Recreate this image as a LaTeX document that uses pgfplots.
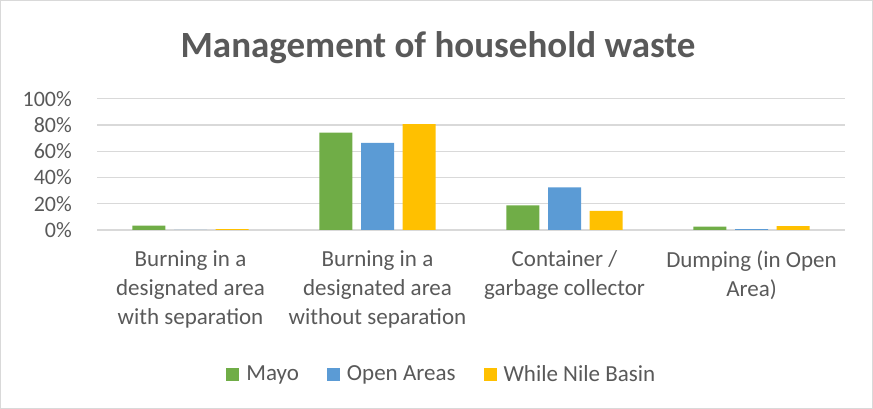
\documentclass[border=0pt]{standalone}
\usepackage{pgfplots}
\pgfplotsset{compat=1.18}
\usepackage{fontspec}
\setmainfont{Carlito}
\definecolor{cgreen}{HTML}{70AD47}
\definecolor{cblue}{HTML}{5B9BD5}
\definecolor{cyellow}{HTML}{FFC000}
\definecolor{cgrid}{HTML}{D9D9D9}
\definecolor{ctext}{HTML}{595959}
\begin{document}
\begin{tikzpicture}
\useasboundingbox (0pt,0pt) rectangle (873pt,409pt);
\draw[cgrid, line width=0.8pt] (0.5pt,0.5pt) rectangle (872.5pt,408.5pt);
\node[font=\fontsize{37}{40}\selectfont\bfseries, text=ctext, anchor=base] at (438pt,351.5pt) {Management of household waste};
\begin{axis}[
  at={(97pt,179pt)}, anchor=south west,
  scale only axis, width=748pt, height=131.3pt,
  ybar=8.7pt, bar width=33pt,
  xmin=-0.5, xmax=3.5, ymin=0, ymax=100,
  ytick={0,20,...,100},
  yticklabel={\pgfmathprintnumber{\tick}\%},
  xtick={0,1,2,3},
  xticklabels={{Burning in a\\designated area\\with separation},{Burning in a\\designated area\\without separation},{Container /\\garbage collector},{Dumping (in Open\\Area)}},
  xticklabel style={align=center, font=\fontsize{23}{29}\selectfont, text=ctext, anchor=north, inner sep=0pt, yshift=-20pt},
  yticklabel style={font=\fontsize{22}{24}\selectfont, text=ctext, anchor=east, inner sep=0pt, xshift=-25pt},
  /pgf/number format/assume math mode=true,
  major tick length=0pt,
  axis line style={draw=none},
  ymajorgrids, grid style={cgrid, line width=1.3pt},
  legend columns=3,
  legend style={draw=none, at={(axis description cs:0.461,-1.097)}, anchor=center,
    font=\fontsize{23}{26}\selectfont, text=ctext,
    /tikz/every odd column/.append style={column sep=5pt},
    /tikz/every even column/.append style={column sep=26pt}},
  legend image code/.code={\fill[#1] (0pt,-6.5pt) rectangle (13pt,6.5pt);},
  legend cell align=left,
]
\addplot[fill=cgreen, draw=none] coordinates {(0,3.3) (1,74.1) (2,18.8) (3,2.5)};
\addplot[fill=cblue, draw=none] coordinates {(0,0) (1,66.3) (2,32.5) (3,0.7)};
\addplot[fill=cyellow, draw=none] coordinates {(0,0.7) (1,80.7) (2,14.5) (3,3.0)};
\legend{Mayo,Open Areas,While Nile Basin}
\end{axis}
\end{tikzpicture}
\end{document}
